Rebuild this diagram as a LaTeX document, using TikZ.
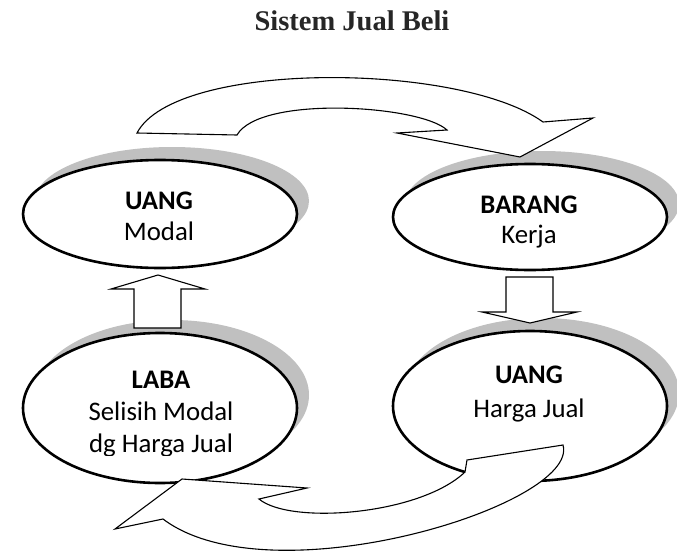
\documentclass[tikz,border=0pt]{standalone}
\usepackage{fontspec}
\setmainfont{Carlito}
\newfontfamily\titlefont{Liberation Serif}
\usetikzlibrary{shapes.geometric}
\definecolor{shade}{RGB}{192,192,192}
\definecolor{titlegray}{RGB}{38,38,38}
\tikzset{
  bubble/.style={ellipse, draw=black, line width=2.6pt, fill=white, inner sep=0pt, minimum width=274pt},
  bubbleshadow/.style={ellipse, fill=shade, inner sep=0pt, minimum width=274pt},
  lbl/.style={anchor=base, inner sep=0pt, font=\fontsize{26.8}{30}\selectfont},
  lblb/.style={anchor=base, inner sep=0pt, font=\fontsize{26.8}{30}\selectfont\bfseries},
  flow/.style={draw=black, line width=1.1pt, fill=white, line join=miter},
}
\begin{document}
\begin{tikzpicture}[x=1pt, y=-1pt]
  \clip (0,0) rectangle (677,551);
  \fill[white] (0,0) rectangle (677,551);

  % title
  \node[anchor=base, inner sep=0pt, text=titlegray,
        font=\titlefont\fontsize{28.5}{32}\selectfont\bfseries] (title) at (352,31) {Sistem Jual Beli};

  % shadows behind the four bubbles
  \node[bubbleshadow, minimum height=108pt] (sUM) at (172,201) {};
  \node[bubbleshadow, minimum height=106pt] (sBK) at (542,204) {};
  \node[bubbleshadow, minimum height=150pt] (sLB) at (172,395) {};
  \node[bubbleshadow, minimum height=150pt] (sHJ) at (542,393) {};

  % bubbles
  \node[bubble, minimum height=108pt] (uangModal) at (160,214) {};
  \node[bubble, minimum height=106pt] (barang) at (530,217) {};
  \node[bubble, minimum height=150pt] (laba) at (160,408) {};
  \node[bubble, minimum height=150pt] (uangJual) at (530,406) {};

  % labels
  \node[lblb] (tUM1) at (159,209) {UANG};
  \node[lbl]  (tUM2) at (159,240) {Modal};
  \node[lblb] (tBK1) at (529,213) {BARANG};
  \node[lbl]  (tBK2) at (529,243) {Kerja};
  \node[lblb] (tLB1) at (161,388) {LABA};
  \node[lbl]  (tLB2) at (161,420) {Selisih Modal};
  \begin{scope}
    \clip (40,420) rectangle (290,455);
    \node[lbl] (tLB3) at (161,452) {dg Harga Jual};
  \end{scope}
  \node[lblb] (tHJ1) at (529,383) {UANG};
  \node[lbl]  (tHJ2) at (529,417) {Harga Jual};

  % block arrows between the bubbles
  \draw[flow] (134,328) -- (134,289) -- (111,289) -- (158,275) -- (205,289)
              -- (181,289) -- (181,328) -- cycle;
  \draw[flow] (506,277) -- (553,277) -- (553,312) -- (577,312) -- (530,323)
              -- (482,312) -- (506,312) -- cycle;

  % curved arrow on top: modal -> barang
  \draw[flow] (137,133) .. controls (175,60) and (460,62) .. (543,122)
              -- (593,118) -- (520,157) -- (397,133) -- (447,130)
              .. controls (420,105) and (260,95) .. (237,135) -- cycle;

  % curved arrow at the bottom: harga jual -> laba
  \draw[flow] (465,472) -- (467,460) -- (563,445)
              .. controls (580,505) and (270,600) .. (163,519)
              -- (115,529) -- (182,479) -- (307,488) -- (259,499)
              .. controls (290,525) and (420,515) .. (465,472) -- cycle;
\end{tikzpicture}
\end{document}
